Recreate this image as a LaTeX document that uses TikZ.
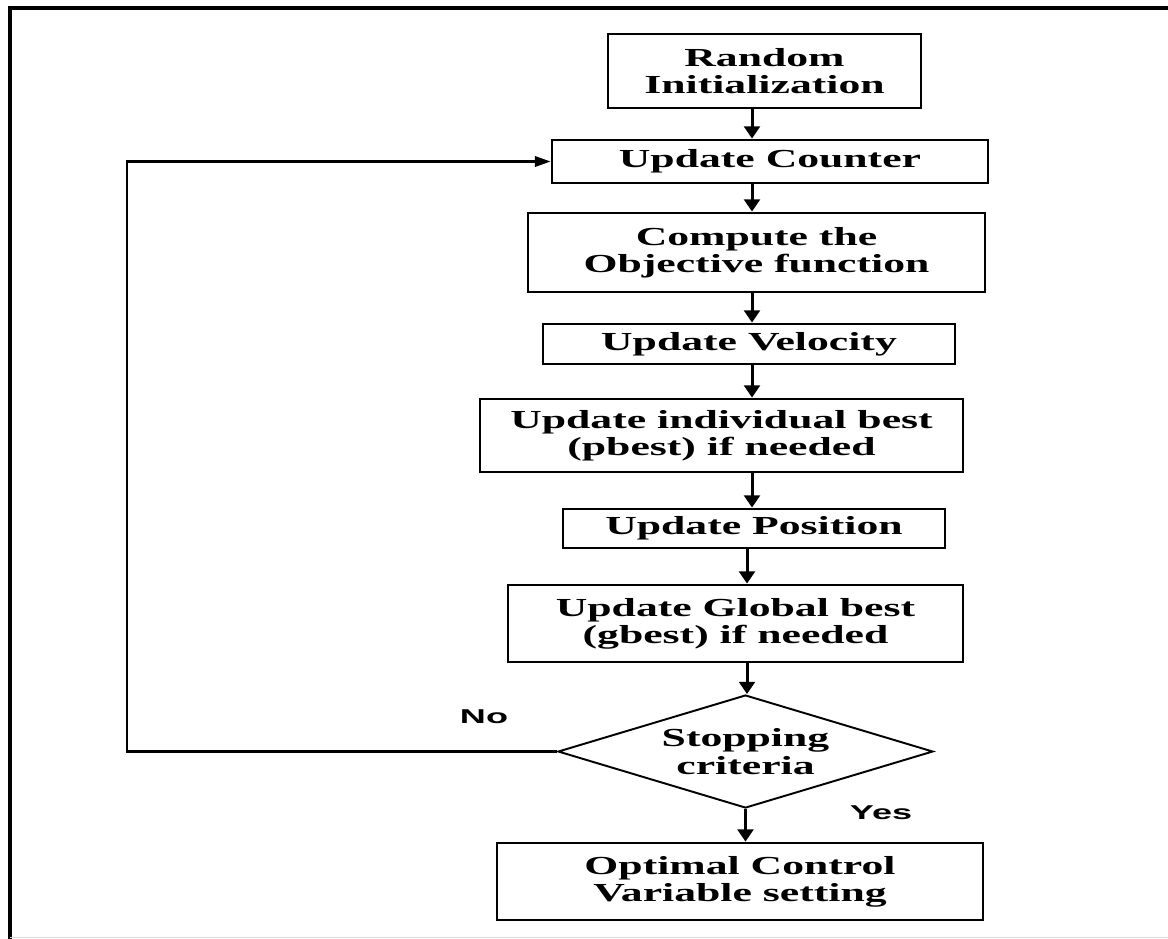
\documentclass[tikz,border=0pt]{standalone}
\usepackage{fontspec}
\setmainfont{Liberation Serif}
\newfontfamily\boxfont[FakeStretch=1.68]{Liberation Serif}
\newfontfamily\tagfont[FakeStretch=1.8]{Liberation Sans}
\usetikzlibrary{arrows.meta,shapes.geometric}
\def\px{0.02cm}

\tikzset{
  flowbox/.style 2 args={draw, rectangle, line width=1.6pt, align=center, inner sep=0pt,
    minimum width=#1*\px, minimum height=#2*\px,
    font=\boxfont\bfseries\fontsize{14.8}{15.2}\selectfont},
  testbox/.style 2 args={draw, diamond, line width=1.1pt, align=center, inner sep=0pt, aspect=3.3,
    minimum width=#1*\px, minimum height=#2*\px,
    font=\boxfont\bfseries\fontsize{14.8}{15.8}\selectfont},
  flowarrow/.style={line width=1.7pt, -{Triangle[length=7pt,width=9pt]}},
  looparrow/.style={line width=1.2pt, -{Triangle[length=9pt,width=6pt]}},
  tag/.style={font=\tagfont\bfseries\fontsize{11.4}{13}\selectfont}
}

\begin{document}
\begin{tikzpicture}[x=0.02cm, y=-0.02cm]
			%%%%% START %%%%%
			\useasboundingbox (0, 0) rectangle (1168, 938);
			
			\draw[line width=1.8pt] (1180, 8) -- (10, 8) -- (10, 945);
			\draw[black!15, line width=0.6pt] (10, 937) -- (1180, 937);
			
			\node[flowbox={313}{74}] (init) at (764.5, 71) {Random\\Initialization};
			\node[flowbox={436}{43}] (count) at (770, 161.5) {Update Counter};
			\node[flowbox={457}{79}] (obj) at (756.5, 252.5) {Compute the\\Objective function};
			\node[flowbox={412}{40}] (vel) at (749, 344) {Update Velocity};
			\node[flowbox={483}{73}] (pbest) at (721.5, 435.5) {Update individual best\\(pbest) if needed};
			\node[flowbox={382}{39}] (pos) at (754, 528.5) {Update Position};
			\node[flowbox={455}{77}] (gbest) at (735.5, 623.5) {Update Global best\\(gbest) if needed};
			\node[testbox={375}{113}] (stop) at (745.5, 751.5) {Stopping\\criteria};
			\node[flowbox={486}{77}] (opt) at (740, 881.5) {Optimal Control\\Variable setting};
			
			\node[tag] (no) at (484, 717) {No};
			\node[tag] (yes) at (881, 813) {Yes};
			
			\coordinate (upper) at (752, 0);
			\coordinate (lower) at (747, 0);
			\coordinate (back) at (127, 0);
			
			\draw[flowarrow] (init.south -| upper) -- (count.north -| upper);
			\draw[flowarrow] (count.south -| upper) -- (obj.north -| upper);
			\draw[flowarrow] (obj.south -| upper) -- (vel.north -| upper);
			\draw[flowarrow] (vel.south -| upper) -- (pbest.north -| upper);
			\draw[flowarrow] (pbest.south -| upper) -- (pos.north -| upper);
			\draw[flowarrow] (pos.south -| lower) -- (gbest.north -| lower);
			\draw[flowarrow] (gbest.south -| lower) -- (stop.north -| lower);
			\draw[flowarrow] (stop.south) -- (opt.north -| stop.south);
			
			\draw[looparrow] (stop.west) -- (stop.west -| back) |- (count.west);
			%%%%% END %%%%%
		\end{tikzpicture}
\end{document}
